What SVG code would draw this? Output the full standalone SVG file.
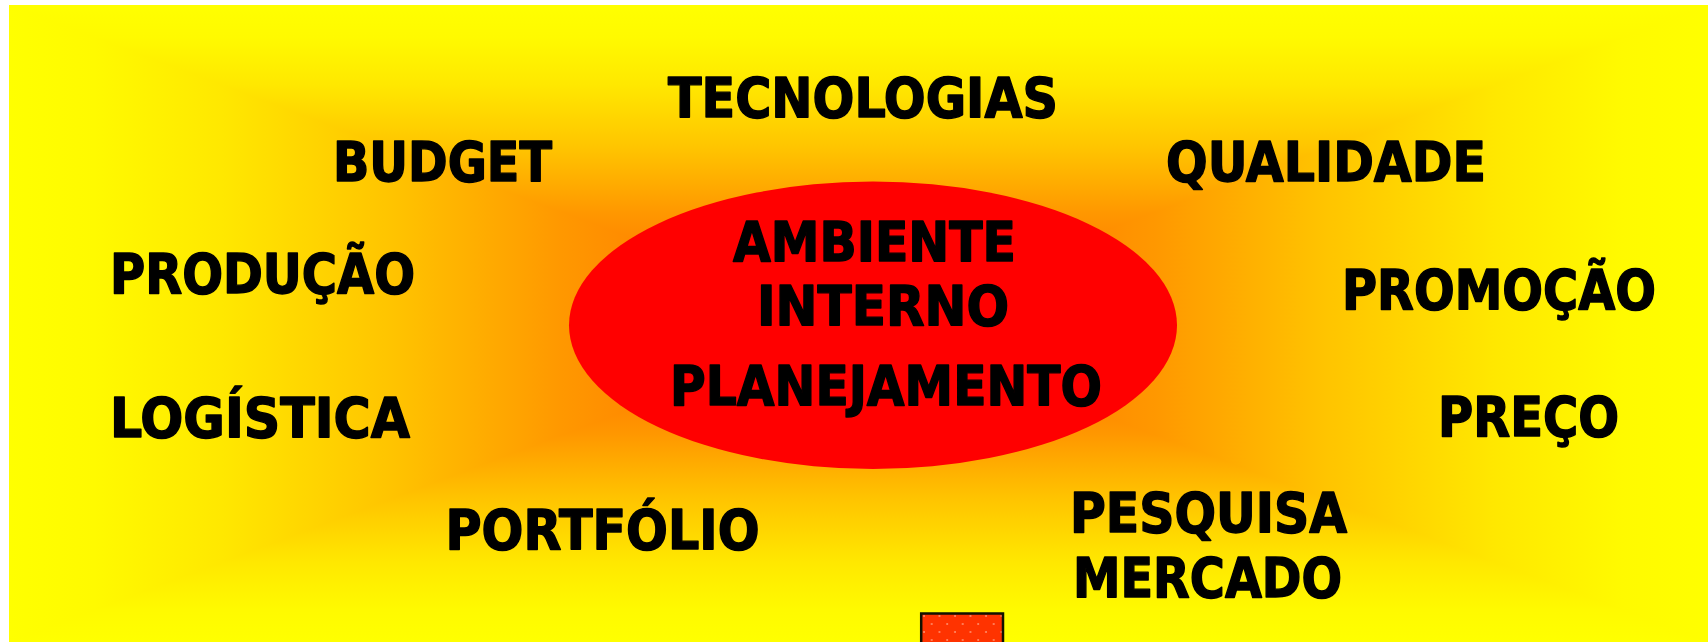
<svg xmlns="http://www.w3.org/2000/svg" width="1708" height="642" viewBox="0 0 1708 642">
  <style>
    .lbl { font-family: "DejaVu Sans Condensed", "DejaVu Sans", sans-serif; font-stretch: condensed; font-weight: bold; font-size: 55px; fill: #000000; stroke: #000000; stroke-width: 1.4; stroke-linejoin: round; }
    .tri { shape-rendering: crispEdges; }
  </style>
  <defs>
    <linearGradient id="gTop" gradientUnits="userSpaceOnUse" x1="0" y1="323.5" x2="0" y2="5">
      <stop offset="0" stop-color="#ff6000"/>
      <stop offset="0.35" stop-color="#ff9800"/>
      <stop offset="0.55" stop-color="#ffc400"/>
      <stop offset="0.75" stop-color="#ffe800"/>
      <stop offset="0.9" stop-color="#fffa00"/>
      <stop offset="1" stop-color="#ffff00"/>
    </linearGradient>
    <linearGradient id="gBot" href="#gTop" gradientUnits="userSpaceOnUse" x1="0" y1="323.5" x2="0" y2="642"/>
    <linearGradient id="gLeft" href="#gTop" gradientUnits="userSpaceOnUse" x1="858.5" y1="0" x2="9" y2="0"/>
    <linearGradient id="gRight" href="#gTop" gradientUnits="userSpaceOnUse" x1="858.5" y1="0" x2="1708" y2="0"/>
    <pattern id="dots" patternUnits="userSpaceOnUse" x="921" y="613" width="15.5" height="16">
      <rect width="15.5" height="16" fill="#ff3300"/>
      <circle cx="3" cy="3" r="0.9" fill="#ff9a7a"/>
      <circle cx="10.7" cy="11" r="0.9" fill="#ff9a7a"/>
    </pattern>
  </defs>

  <rect x="0" y="0" width="1708" height="642" fill="#ffffff"/>
  <g id="background">
    <polygon class="tri" points="9,5 1708,5 858.5,323.5" fill="url(#gTop)"/>
    <polygon class="tri" points="9,642 1708,642 858.5,323.5" fill="url(#gBot)"/>
    <polygon class="tri" points="9,5 9,642 858.5,323.5" fill="url(#gLeft)"/>
    <polygon class="tri" points="1708,5 1708,642 858.5,323.5" fill="url(#gRight)"/>
  </g>

  <g id="connectors"></g>

  <g id="center">
    <ellipse cx="873" cy="325.3" rx="304" ry="143.7" fill="#ff0000"/>
    <text class="lbl" x="733" y="260.7" textLength="283" lengthAdjust="spacingAndGlyphs">AMBIENTE</text>
    <text class="lbl" x="757" y="325" textLength="252" lengthAdjust="spacingAndGlyphs">INTERNO</text>
    <text class="lbl" x="670" y="405" textLength="432" lengthAdjust="spacingAndGlyphs">PLANEJAMENTO</text>
  </g>

  <g id="tecnologias"><text class="lbl" x="668" y="116.7" textLength="390" lengthAdjust="spacingAndGlyphs">TECNOLOGIAS</text></g>
  <g id="budget"><text class="lbl" x="333" y="180.7" textLength="219" lengthAdjust="spacingAndGlyphs">BUDGET</text></g>
  <g id="qualidade"><text class="lbl" x="1166" y="181" textLength="320" lengthAdjust="spacingAndGlyphs">QUALIDADE</text></g>
  <g id="producao"><text class="lbl" x="110" y="292.7" textLength="305" lengthAdjust="spacingAndGlyphs">PRODUÇÃO</text></g>
  <g id="promocao"><text class="lbl" x="1342" y="309" textLength="314" lengthAdjust="spacingAndGlyphs">PROMOÇÃO</text></g>
  <g id="logistica"><text class="lbl" x="110" y="436.7" textLength="300" lengthAdjust="spacingAndGlyphs">LOGÍSTICA</text></g>
  <g id="preco"><text class="lbl" x="1438" y="436" textLength="181" lengthAdjust="spacingAndGlyphs">PREÇO</text></g>
  <g id="portfolio"><text class="lbl" x="445.5" y="549" textLength="314" lengthAdjust="spacingAndGlyphs">PORTFÓLIO</text></g>
  <g id="pesquisa-mercado">
    <text class="lbl" x="1070" y="532.3" textLength="277" lengthAdjust="spacingAndGlyphs">PESQUISA</text>
    <text class="lbl" x="1073" y="597.3" textLength="269" lengthAdjust="spacingAndGlyphs">MERCADO</text>
  </g>

  <g id="small-box">
    <rect x="921.2" y="613.5" width="81.8" height="40" fill="url(#dots)" stroke="#111100" stroke-width="2.5"/>
  </g>
</svg>
